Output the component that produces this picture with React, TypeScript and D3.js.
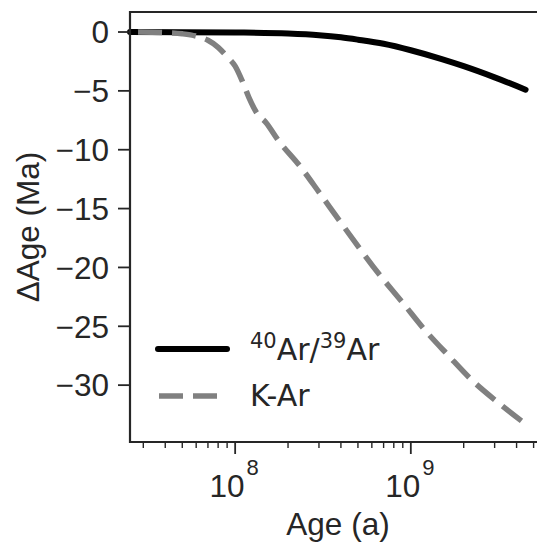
import React, { useEffect, useRef } from "react";
import * as d3 from "d3";

// 40Ar/39Ar age offset (solid black)
const arArAges = [2.52e7, 5e7, 1e8, 2e8, 3e8, 4e8, 5e8, 7e8, 1e9, 1.5e9, 2e9, 3e9, 4.5e9];
const arArDelta = [0, -0.01, -0.04, -0.13, -0.27, -0.45, -0.65, -1.0, -1.55, -2.3, -2.9, -3.85, -4.9];

// K-Ar age offset (grey dashed)
const kArAges = [
  2.8e7, 4e7, 5e7, 6e7, 7e7, 8e7, 9e7, 1e8, 1.1e8, 1.2e8, 1.33e8, 1.5e8, 1.76e8, 2.34e8, 3e8,
  4e8, 6.7e8, 9e8, 1.2e9, 1.64e9, 2.2e9, 3.15e9, 4.5e9,
];
const kArDelta = [
  0, -0.05, -0.15, -0.35, -0.7, -1.3, -2.1, -2.9, -4.2, -5.6, -6.9, -7.7, -9.2, -11.4, -13.6,
  -16.2, -20.7, -23.0, -25.3, -27.5, -29.5, -31.5, -33.3,
];

const yTicks = [0, -5, -10, -15, -20, -25, -30];
const xMajor = [1e8, 1e9];
const xMinor = [3e7, 4e7, 5e7, 6e7, 7e7, 8e7, 9e7, 2e8, 3e8, 4e8, 5e8, 6e8, 7e8, 8e8, 9e8, 2e9, 3e9, 4e9, 5e9];

const width = 537;
const height = 543;
const left = 130;
const right = 544;
const top = 12;
const bottom = 442;
const ink = "#262626";
const tickFont = "'Liberation Sans', Arial, sans-serif";
const legendFont = "'DejaVu Sans', sans-serif";
const fs = 31.5;

const App = () => {
  const ref = useRef<SVGSVGElement>(null);

  useEffect(() => {
    const svg = d3.select(ref.current);
    svg.selectAll("*").remove();

    const x = d3.scaleLog().domain([2.52e7, 5.73e9]).range([left, right]);
    const y = d3.scaleLinear().domain([-34.83, 1.7]).range([bottom, top]);

    const line = d3
      .line<[number, number]>()
      .x((d) => x(d[0]))
      .y((d) => y(d[1]))
      .curve(d3.curveMonotoneX);

    const arAr = arArAges.map((a, i) => [a, arArDelta[i]] as [number, number]);
    const kAr = kArAges.map((a, i) => [a, kArDelta[i]] as [number, number]);

    svg
      .append("path")
      .attr("d", line(arAr))
      .attr("fill", "none")
      .attr("stroke", "#000")
      .attr("stroke-width", 6)
      .attr("stroke-linecap", "round");

    svg
      .append("path")
      .attr("d", line(kAr))
      .attr("fill", "none")
      .attr("stroke", "#808080")
      .attr("stroke-width", 5.5)
      .attr("stroke-dasharray", "24,10");

    // spines
    svg
      .append("path")
      .attr("d", `M${right},${top}H${left}V${bottom}H${right}`)
      .attr("fill", "none")
      .attr("stroke", ink)
      .attr("stroke-width", 2.2);

    // y ticks
    const yg = svg.append("g");
    yTicks.forEach((t) => {
      yg.append("line")
        .attr("x1", left - 12)
        .attr("x2", left)
        .attr("y1", y(t))
        .attr("y2", y(t))
        .attr("stroke", ink)
        .attr("stroke-width", 1.8);
      yg.append("text")
        .attr("x", 109)
        .attr("y", y(t) + 11.3)
        .attr("text-anchor", "end")
        .attr("font-family", tickFont)
        .attr("font-size", fs)
        .attr("fill", ink)
        .text(String(t).replace("-", "\u2212"));
    });

    // x ticks
    const xg = svg.append("g");
    xMinor.forEach((t) => {
      xg.append("line")
        .attr("x1", x(t))
        .attr("x2", x(t))
        .attr("y1", bottom)
        .attr("y2", bottom + 6)
        .attr("stroke", ink)
        .attr("stroke-width", 1.4);
    });
    xMajor.forEach((t) => {
      xg.append("line")
        .attr("x1", x(t))
        .attr("x2", x(t))
        .attr("y1", bottom)
        .attr("y2", bottom + 12)
        .attr("stroke", ink)
        .attr("stroke-width", 1.8);
      const txt = xg
        .append("text")
        .attr("x", x(t) - 1)
        .attr("y", 497)
        .attr("text-anchor", "middle")
        .attr("font-family", tickFont)
        .attr("font-size", fs)
        .attr("fill", ink);
      txt.append("tspan").text("10");
      txt
        .append("tspan")
        .attr("dx", 2)
        .attr("dy", -22)
        .attr("font-size", 22)
        .text(String(Math.round(Math.log10(t))));
    });

    // axis labels
    svg
      .append("text")
      .attr("x", 338)
      .attr("y", 535)
      .attr("text-anchor", "middle")
      .attr("font-family", tickFont)
      .attr("font-size", fs)
      .attr("fill", ink)
      .text("Age (a)");
    svg
      .append("text")
      .attr("transform", `translate(39,${(top + bottom) / 2}) rotate(-90)`)
      .attr("text-anchor", "middle")
      .attr("font-family", tickFont)
      .attr("font-size", fs)
      .attr("fill", ink)
      .text("\u0394Age (Ma)");

    // legend
    const lg = svg.append("g");
    lg.append("line")
      .attr("x1", 158)
      .attr("x2", 227)
      .attr("y1", 349)
      .attr("y2", 349)
      .attr("stroke", "#000")
      .attr("stroke-width", 6)
      .attr("stroke-linecap", "round");
    lg.append("line")
      .attr("x1", 159)
      .attr("x2", 227)
      .attr("y1", 396)
      .attr("y2", 396)
      .attr("stroke", "#808080")
      .attr("stroke-width", 5.5)
      .attr("stroke-dasharray", "24,10");
    const t1 = lg
      .append("text")
      .attr("x", 250)
      .attr("y", 360)
      .attr("font-family", legendFont)
      .attr("font-size", 30)
      .attr("fill", ink);
    t1.append("tspan").attr("font-size", 21).attr("dy", -12).text("40");
    t1.append("tspan").attr("dy", 12).text("Ar/");
    t1.append("tspan").attr("font-size", 21).attr("dy", -12).text("39");
    t1.append("tspan").attr("dy", 12).text("Ar");
    lg.append("text")
      .attr("x", 250)
      .attr("y", 406)
      .attr("font-family", legendFont)
      .attr("font-size", 30)
      .attr("fill", ink)
      .text("K-Ar");
  }, []);

  return (
    <div style={{ position: "absolute", left: 0, top: 0 }}>
      <svg ref={ref} width={width} height={height} style={{ display: "block", background: "#fff" }} />
    </div>
  );
};

export default App;
